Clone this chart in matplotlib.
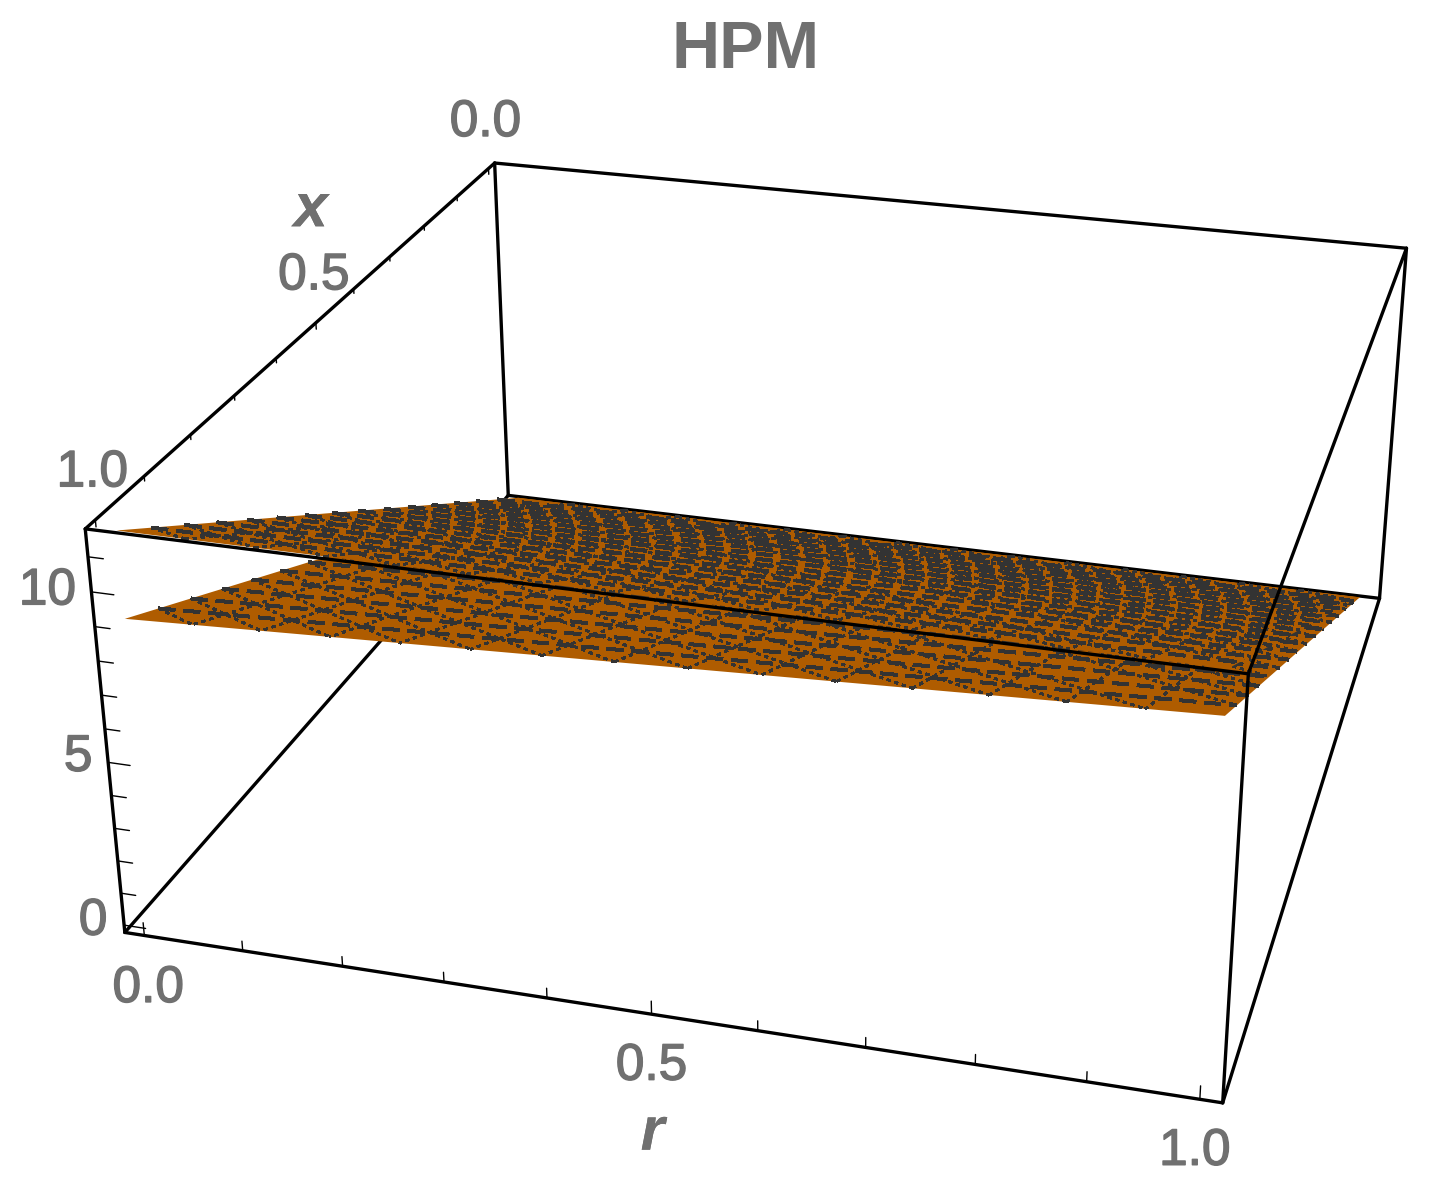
import numpy as np
import matplotlib
matplotlib.use("Agg")
import matplotlib.pyplot as plt
import matplotlib.patheffects as pe
from mpl_toolkits.mplot3d import proj3d

W, H = 1434, 1200
plt.rcParams["font.family"] = ["Liberation Sans", "DejaVu Sans"]

# data
r_range = [0.0, 1.0]
x_range = [0.0, 1.0]
z_upper = [[0.0, 0.0], [11.56, 11.56]]   # rows: x, columns: r
z_lower = [[0.0, 0.0], [9.03, 10.3]]
mesh_values = [i / 15 for i in range(1, 15)]
r_ticks = [i / 10 for i in range(11)]
x_ticks = [i / 10 for i in range(11)]
z_ticks = list(range(12))
r_labels = {0.0: "0.0", 0.5: "0.5", 1.0: "1.0"}
x_labels = {0.0: "0.0", 0.5: "0.5", 1.0: "1.0"}
z_labels = {0: "0", 5: "5", 10: "10"}

R0, R1 = -0.02, 1.02
X0, X1 = -0.02, 1.02
Z0, Z1 = -0.23, 11.79
ORANGE = "#AF5C00"
MESH = "#333333"
GRAY = "#707070"

# axes placed so that the box lands where it is in the reference
SCALE = 3507.5
side = 0.185 * SCALE
left = 808.12 - 0.095 * SCALE
bottom = H - (567.68 + 0.095 * SCALE)
fig = plt.figure(figsize=(W / 100, H / 100), dpi=100)
ax = fig.add_axes([left / W, bottom / H, side / W, side / H], projection="3d")
ax.set_xlim(R0, R1, view_margin=0)
ax.set_ylim(X1, X0, view_margin=0)
ax.set_zlim(Z0, Z1, view_margin=0)
ax.set_proj_type("persp", focal_length=1.0)
ax.view_init(25.4091, -74.1798, 0.0406)
ax.set_box_aspect((1.0012, 1, 0.4018), zoom=2.273)
ax.computed_zorder = False
ax.set_axis_off()


def edge(p, q, zorder, lw=2.4):
    ax.plot([p[0], q[0]], [p[1], q[1]], [p[2], q[2]], color="black", lw=lw,
            clip_on=False, zorder=zorder, solid_capstyle="round")


# back edges under the surfaces
edge((R0, X0, Z0), (R1, X0, Z0), 1)
edge((R0, X0, Z0), (R0, X0, Z1), 1)
edge((R1, X0, Z0), (R1, X0, Z1), 1)
edge((R0, X1, Z0), (R0, X0, Z0), 1)
edge((R1, X1, Z0), (R1, X0, Z0), 1)
edge((R0, X0, Z1), (R1, X0, Z1), 1)


def surface(z_table, zorder):
    z_table = np.array(z_table)
    rr, xx = np.meshgrid(r_range, x_range)
    poly = ax.plot_surface(rr, xx, z_table, color=ORANGE, shade=False, linewidth=0,
                           antialiased=True, zorder=zorder)
    poly.set_clip_on(False)

    def height(r, x):
        low = z_table[0, 0] + r * (z_table[0, 1] - z_table[0, 0])
        high = z_table[1, 0] + r * (z_table[1, 1] - z_table[1, 0])
        return low + x * (high - low)

    def mesh_line(r0, x0, r1, x1, lw, ls):
        ax.plot([r0, r1], [x0, x1], [height(r0, x0), height(r1, x1)], color=MESH,
                lw=lw, ls=ls, antialiased=False, clip_on=False, zorder=zorder + 0.5)

    for m in mesh_values:
        mesh_line(0, m, 1, m, 2.0, (0, (6, 3)))
        mesh_line(m, 0, m, 1, 1.6, (0, (1.5, 2)))
        mesh_line(m, 0, 1, 1 - m, 1.6, (0, (1.5, 2)))
        mesh_line(0, m, 1 - m, 1, 1.6, (0, (1.5, 2)))


surface(z_lower, 2)
surface(z_upper, 3)

# front edges over them
edge((R0, X1, Z0), (R1, X1, Z0), 5)
edge((R0, X1, Z0), (R0, X1, Z1), 5)
edge((R1, X1, Z0), (R1, X1, Z1), 5)
edge((R0, X1, Z1), (R1, X1, Z1), 5)
edge((R0, X1, Z1), (R0, X0, Z1), 5)
edge((R1, X1, Z1), (R1, X0, Z1), 5)

# ticks
for t in r_ticks:
    h = 0.4 if t in r_labels else 0.3
    edge((t, X1, Z0), (t, X1, Z0 + h), 5, lw=1.0)
for t in x_ticks:
    h = 0.2 if t in x_labels else 0.14
    edge((R0, t, Z1), (R0, t, Z1 - h), 5, lw=1.0)
for t in z_ticks:
    d = 0.022 if t in z_labels else 0.015
    edge((R0, X1, t), (R0 + d, X1, t), 5, lw=1.0)


def label(x, y, z, text, dx, dy, size=37, stroke=1.0, **kw):
    # text is offset in pixels from the projected point of the axis
    px, py, _ = proj3d.proj_transform(x, y, z, ax.get_proj())
    ax.annotate(text, (px, py), xytext=(dx, dy), textcoords="offset pixels",
                ha="center", va="center", color=GRAY, fontsize=size,
                annotation_clip=False,
                path_effects=[pe.withStroke(linewidth=stroke, foreground=GRAY)], **kw)


label(0.0, X1, Z0, "0.0", 4, -53)
label(0.5, X1, Z0, "0.5", 0, -52)
label(1.0, X1, Z0, "1.0", -5, -52)
label(R0, 0.0, Z1, "0.0", -3, 46)
label(R0, 0.5, Z1, "0.5", -2, 47)
label(R0, 1.0, Z1, "1.0", -3, 47)
label(R0, X1, 0, "0", -31, 4)
label(R0, X1, 5, "5", -30, 5)
label(R0, X1, 10, "10", -44, 1)
label(0.5, X1, Z0, "r", 1, -120, size=44, stroke=0, style="italic", weight="bold")
label(R0, 0.5, Z1, "x", -5, 112, size=44, stroke=0, style="italic", weight="bold")

fig.text(746 / W, 1 - 51 / H, "HPM", color=GRAY, fontsize=48, weight="bold",
         ha="center", va="center")
fig.savefig("out.png")
